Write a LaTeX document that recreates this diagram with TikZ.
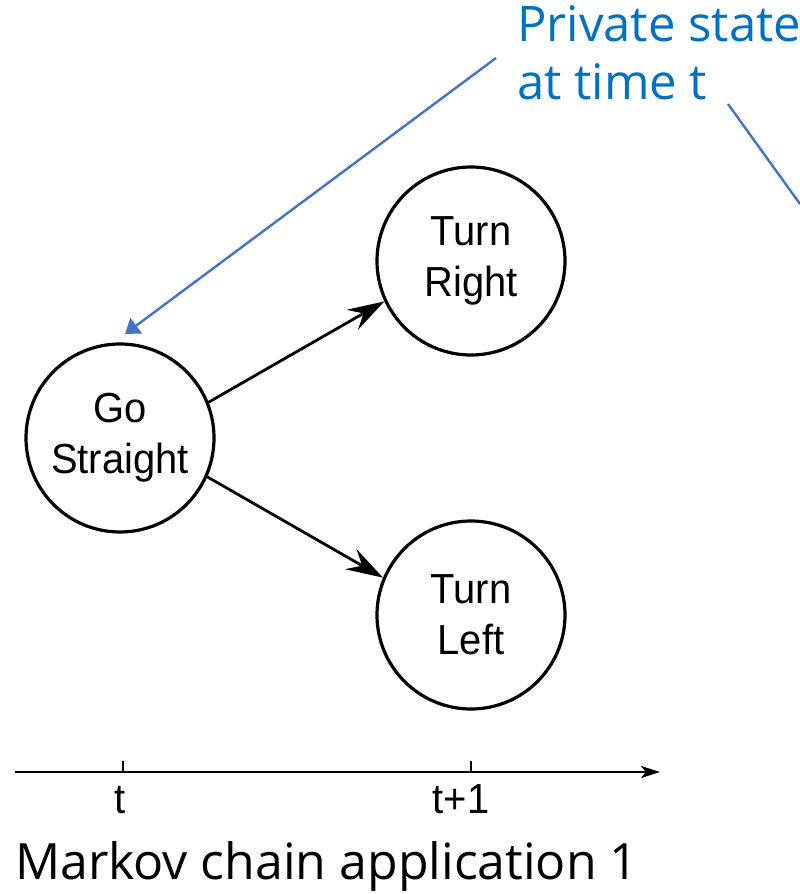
\documentclass[tikz,border=0pt]{standalone}
\usepackage{fontspec}
\setmainfont{Open Sans}
\newfontfamily\arialn[FakeStretch=0.95]{Liberation Sans}
\usetikzlibrary{arrows.meta}
\usetikzlibrary{positioning}
\definecolor{noteblue}{RGB}{0,112,192}
\definecolor{lineblue}{RGB}{68,114,196}

\begin{document}
\begin{tikzpicture}[x=1pt, y=-1pt,
	state/.style={draw, circle, line width=3.2pt, minimum size=188pt, inner sep=0pt,
	              align=center, font=\arialn\fontsize{42}{51}\selectfont},
	trans/.style={line width=2.8pt, -{Stealth[length=37pt, width=23pt, inset=13pt]}},
	ticklabel/.style={anchor=base, inner sep=0pt, font=\arialn\fontsize{42}{51}\selectfont},
	note/.style={text=noteblue, align=left, inner sep=0pt, font=\fontsize{49}{58}\selectfont},
	pointer/.style={draw=lineblue, line width=2.4pt}]
		\useasboundingbox (0,0) rectangle (800,894);
		
		%States
		\node[state] (gostraight) at (120,438){Go\hspace{14pt}\\Straight};
		\node[state] (turnright) at (471,261){Turn\\Right};
		\node[state] (turnleft) at (471,615){Turn\\Left};
		
		\draw[trans] (gostraight.22) -- (turnright.205);
		\draw[trans] (gostraight.-24) -- (turnleft.157);
		
		%Time axis
		\coordinate (axisstart) at (15,772);
		\coordinate (axisend) at (660,772);
		\coordinate (tnow) at (123,772);
		\coordinate (tnext) at (471,772);
		\draw[line width=2.8pt, -{Stealth[length=19pt, width=12pt, inset=5pt]}] (axisstart) -- (axisend);
		\draw[line width=2.2pt] (tnow) -- ++(0,-11);
		\draw[line width=2.2pt] (tnext) -- ++(0,-11);
		\node[ticklabel] (tnowlabel) at (120,813){t};
		\node[ticklabel] (tnextlabel) at (461,813){t+1};
		
		%Note
		\node[note, anchor=north west] (privstate) at (517,5){Private state\\at time t};
		\coordinate (notefoot) at (496,58);
		\coordinate (notetip) at (125,334);
		\coordinate (notestart) at (728,104);
		\coordinate (noteend) at (800,204);
		\draw[pointer, -{Triangle[length=14pt, width=19pt]}, fill=lineblue] (notefoot) -- (notetip);
		\draw[pointer] (notestart) -- (noteend);
		
		%Caption
		\node[anchor=base west, inner sep=0pt, font=\fontsize{50}{58}\selectfont] (caption) at (15,879){Markov chain application 1};
	\end{tikzpicture}
\end{document}
